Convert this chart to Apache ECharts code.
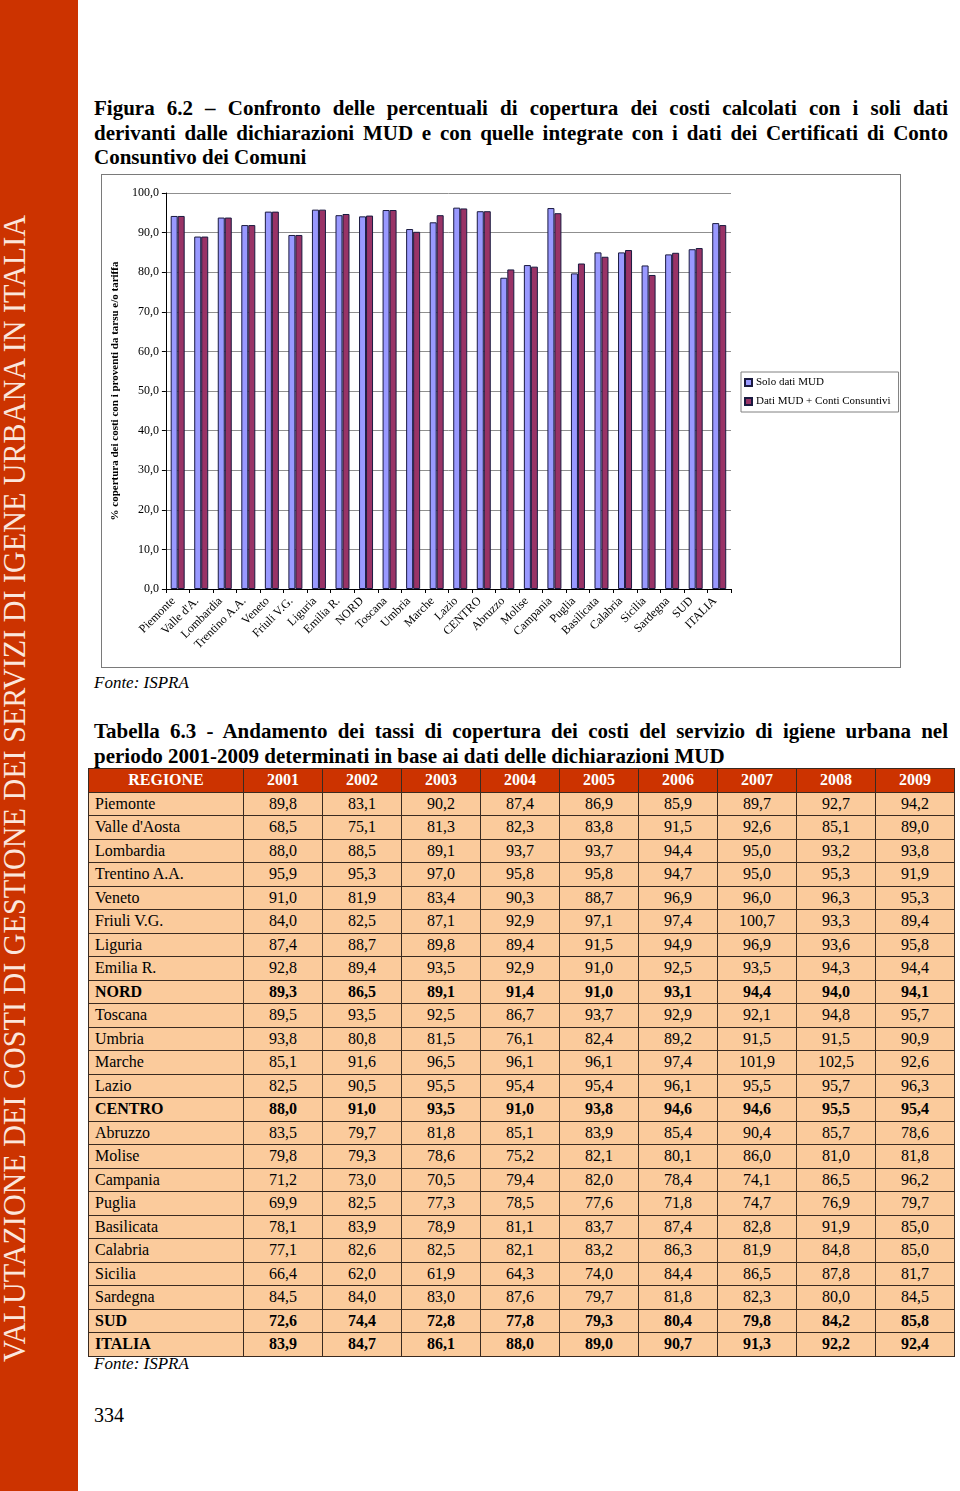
<!DOCTYPE html>
<html>
<head>
<meta charset="utf-8">
<script src="https://cdn.jsdelivr.net/npm/echarts@6/dist/echarts.min.js"></script>
<style>
  html, body { margin: 0; padding: 0; background: #fff; }
  body { width: 960px; height: 1491px; position: relative; overflow: hidden; font-family: "Liberation Serif", "DejaVu Serif", serif; color: #000; }
  #side { position: absolute; left: 0; top: 0; width: 78px; height: 1491px; background: #CC3300; }
  #sideText { position: absolute; white-space: nowrap; font-family: "Liberation Serif", serif; font-size: 32px; color: #fbe6dc; line-height: 32px; transform-origin: 0 0; }
  .heading { position: absolute; left: 94px; width: 854px; font-size: 21px; font-weight: bold; line-height: 24.5px; }
  .heading span { display: block; text-align: justify; text-align-last: justify; white-space: nowrap; }
  .heading span.last { text-align-last: left; }
  .fonte { position: absolute; left: 94px; font-size: 17px; font-style: italic; line-height: 20px; }
  #chartBox { position: absolute; left: 101px; top: 174px; width: 800px; height: 494px; box-sizing: border-box; border: 1px solid #7a7a7a; }
  #chart { position: absolute; left: 0; top: 0; width: 798px; height: 492px; }
  #tbl { position: absolute; left: 88px; top: 768px; width: 866px; border-collapse: collapse; table-layout: fixed; font-size: 16px; }
  #tbl td, #tbl th { border: 1px solid #3a2a20; height: 22.5px; padding: 0; line-height: 22px; }
  #tbl th { background: #CC3300; color: #fff; font-weight: bold; text-align: center; }
  #tbl td { background: #FBCB9C; text-align: center; }
  #tbl td.reg { text-align: left; padding-left: 6px; }
  #tbl tr.bold td { font-weight: bold; }
  #page { position: absolute; left: 94px; top: 1403px; font-size: 20px; line-height: 24px; }
</style>
</head>
<body>
<div id="side"><div id="sideText">VALUTAZIONE DEI COSTI DI GESTIONE DEI SERVIZI DI IGENE URBANA IN ITALIA</div></div>

<div class="heading" style="top:96px;">
  <span>Figura 6.2 – Confronto delle percentuali di copertura dei costi calcolati con i soli dati</span>
  <span>derivanti dalle dichiarazioni MUD e con quelle integrate con i dati dei Certificati di Conto</span>
  <span class="last">Consuntivo dei Comuni</span>
</div>

<div id="chartBox"><div id="chart"></div></div>

<div class="fonte" style="top:673px;">Fonte: ISPRA</div>

<div class="heading" style="top:719px;">
  <span>Tabella 6.3 - Andamento dei tassi di copertura dei costi del servizio di igiene urbana nel</span>
  <span class="last">periodo 2001-2009 determinati in base ai dati delle dichiarazioni MUD</span>
</div>

<table id="tbl"></table>

<div class="fonte" style="top:1354px;">Fonte: ISPRA</div>
<div id="page">334</div>

<script>
// ---------- Chart data (Figura 6.2) ----------
var chartCategories = ["Piemonte", "Valle d'A.", "Lombardia", "Trentino A.A.", "Veneto", "Friuli V.G.", "Liguria", "Emilia R.", "NORD", "Toscana", "Umbria", "Marche", "Lazio", "CENTRO", "Abruzzo", "Molise", "Campania", "Puglia", "Basilicata", "Calabria", "Sicilia", "Sardegna", "SUD", "ITALIA"];
var soloMUD = [94.2, 89.0, 93.8, 91.9, 95.3, 89.4, 95.8, 94.4, 94.1, 95.7, 90.9, 92.6, 96.3, 95.4, 78.6, 81.8, 96.2, 79.7, 85.0, 85.0, 81.7, 84.5, 85.8, 92.4];
var mudConti = [94.2, 89.0, 93.8, 91.9, 95.3, 89.4, 95.8, 94.7, 94.3, 95.7, 90.2, 94.4, 96.1, 95.4, 80.7, 81.4, 94.9, 82.2, 83.9, 85.6, 79.3, 84.9, 86.1, 91.9];
var seriesNames = ["Solo dati MUD", "Dati MUD + Conti Consuntivi"];
var yAxisTitle = "% copertura dei costi con i proventi da tarsu e/o tariffa";

// ---------- Table data (Tabella 6.3) ----------
var tableYears = ["2001", "2002", "2003", "2004", "2005", "2006", "2007", "2008", "2009"];
var tableRegions = ["Piemonte", "Valle d'Aosta", "Lombardia", "Trentino A.A.", "Veneto", "Friuli V.G.", "Liguria", "Emilia R.", "NORD", "Toscana", "Umbria", "Marche", "Lazio", "CENTRO", "Abruzzo", "Molise", "Campania", "Puglia", "Basilicata", "Calabria", "Sicilia", "Sardegna", "SUD", "ITALIA"];
var boldRows = ["NORD", "CENTRO", "SUD", "ITALIA"];
var tableValues = [
  [89.8, 83.1, 90.2, 87.4, 86.9, 85.9, 89.7, 92.7, 94.2],
  [68.5, 75.1, 81.3, 82.3, 83.8, 91.5, 92.6, 85.1, 89.0],
  [88.0, 88.5, 89.1, 93.7, 93.7, 94.4, 95.0, 93.2, 93.8],
  [95.9, 95.3, 97.0, 95.8, 95.8, 94.7, 95.0, 95.3, 91.9],
  [91.0, 81.9, 83.4, 90.3, 88.7, 96.9, 96.0, 96.3, 95.3],
  [84.0, 82.5, 87.1, 92.9, 97.1, 97.4, 100.7, 93.3, 89.4],
  [87.4, 88.7, 89.8, 89.4, 91.5, 94.9, 96.9, 93.6, 95.8],
  [92.8, 89.4, 93.5, 92.9, 91.0, 92.5, 93.5, 94.3, 94.4],
  [89.3, 86.5, 89.1, 91.4, 91.0, 93.1, 94.4, 94.0, 94.1],
  [89.5, 93.5, 92.5, 86.7, 93.7, 92.9, 92.1, 94.8, 95.7],
  [93.8, 80.8, 81.5, 76.1, 82.4, 89.2, 91.5, 91.5, 90.9],
  [85.1, 91.6, 96.5, 96.1, 96.1, 97.4, 101.9, 102.5, 92.6],
  [82.5, 90.5, 95.5, 95.4, 95.4, 96.1, 95.5, 95.7, 96.3],
  [88.0, 91.0, 93.5, 91.0, 93.8, 94.6, 94.6, 95.5, 95.4],
  [83.5, 79.7, 81.8, 85.1, 83.9, 85.4, 90.4, 85.7, 78.6],
  [79.8, 79.3, 78.6, 75.2, 82.1, 80.1, 86.0, 81.0, 81.8],
  [71.2, 73.0, 70.5, 79.4, 82.0, 78.4, 74.1, 86.5, 96.2],
  [69.9, 82.5, 77.3, 78.5, 77.6, 71.8, 74.7, 76.9, 79.7],
  [78.1, 83.9, 78.9, 81.1, 83.7, 87.4, 82.8, 91.9, 85.0],
  [77.1, 82.6, 82.5, 82.1, 83.2, 86.3, 81.9, 84.8, 85.0],
  [66.4, 62.0, 61.9, 64.3, 74.0, 84.4, 86.5, 87.8, 81.7],
  [84.5, 84.0, 83.0, 87.6, 79.7, 81.8, 82.3, 80.0, 84.5],
  [72.6, 74.4, 72.8, 77.8, 79.3, 80.4, 79.8, 84.2, 85.8],
  [83.9, 84.7, 86.1, 88.0, 89.0, 90.7, 91.3, 92.2, 92.4]
];

function fmt(v) { return v.toFixed(1).replace('.', ','); }

// ---------- Build table ----------
(function () {
  var t = document.getElementById('tbl');
  var html = '<colgroup><col style="width:155px">';
  for (var i = 0; i < tableYears.length; i++) html += '<col style="width:79px">';
  html += '</colgroup><tr><th>REGIONE</th>';
  tableYears.forEach(function (y) { html += '<th>' + y + '</th>'; });
  html += '</tr>';
  tableRegions.forEach(function (r, i) {
    html += '<tr' + (boldRows.indexOf(r) >= 0 ? ' class="bold"' : '') + '><td class="reg">' + r + '</td>';
    tableValues[i].forEach(function (v) { html += '<td>' + fmt(v) + '</td>'; });
    html += '</tr>';
  });
  t.innerHTML = html;
})();

// ---------- Side banner text ----------
(function () {
  var el = document.getElementById('sideText');
  var w = el.getBoundingClientRect().width;
  var target = 1147;
  var k = target / w;
  el.style.left = '-2px';
  el.style.top = '1362px';
  el.style.transform = 'rotate(-90deg) scaleX(' + k + ')';
})();

// ---------- Chart ----------
var chart = echarts.init(document.getElementById('chart'), null, { renderer: 'canvas' });
var serif = '"Liberation Serif", "Times New Roman", serif';
chart.setOption({
  animation: false,
  backgroundColor: '#fff',
  grid: { left: 61, top: 18, width: 568, height: 396 },
  legend: {
    orient: 'vertical',
    left: 639, top: 197,
    width: 154,
    padding: [5, 8, 5, 3],
    itemWidth: 7, itemHeight: 7, itemGap: 8,
    borderColor: '#808080', borderWidth: 1,
    icon: 'rect',
    textStyle: { fontFamily: serif, fontSize: 11, color: '#000', padding: [0, 0, 0, -1] },
    data: seriesNames
  },
  xAxis: {
    type: 'category',
    data: chartCategories,
    axisLine: { lineStyle: { color: '#000', width: 1 } },
    axisTick: { show: true, length: 4, lineStyle: { color: '#000' } },
    axisLabel: { interval: 0, rotate: 45, fontFamily: serif, fontSize: 12, color: '#000', margin: 6, padding: [0, 6, 0, 0] }
  },
  yAxis: {
    type: 'value',
    min: 0, max: 100, interval: 10,
    name: yAxisTitle,
    nameLocation: 'middle',
    nameRotate: 90,
    nameGap: 44,
    nameTextStyle: { fontFamily: serif, fontSize: 11, fontWeight: 'bold', color: '#000' },
    axisLine: { show: true, lineStyle: { color: '#000', width: 1 } },
    axisTick: { show: true, length: 4, lineStyle: { color: '#000' } },
    axisLabel: { formatter: function (v) { return fmt(v); }, fontFamily: serif, fontSize: 12, color: '#000', margin: 7 },
    splitLine: { show: true, lineStyle: { color: '#8f8f8f', width: 1 } }
  },
  series: [
    {
      name: seriesNames[0], type: 'bar', data: soloMUD,
      barWidth: 7, barGap: '0%',
      itemStyle: { color: '#9999FF', borderColor: '#1a1a40', borderWidth: 1 }
    },
    {
      name: seriesNames[1], type: 'bar', data: mudConti,
      barWidth: 7, barGap: '0%',
      itemStyle: { color: '#993366', borderColor: '#1a1a40', borderWidth: 1 }
    }
  ]
});
</script>
</body>
</html>
